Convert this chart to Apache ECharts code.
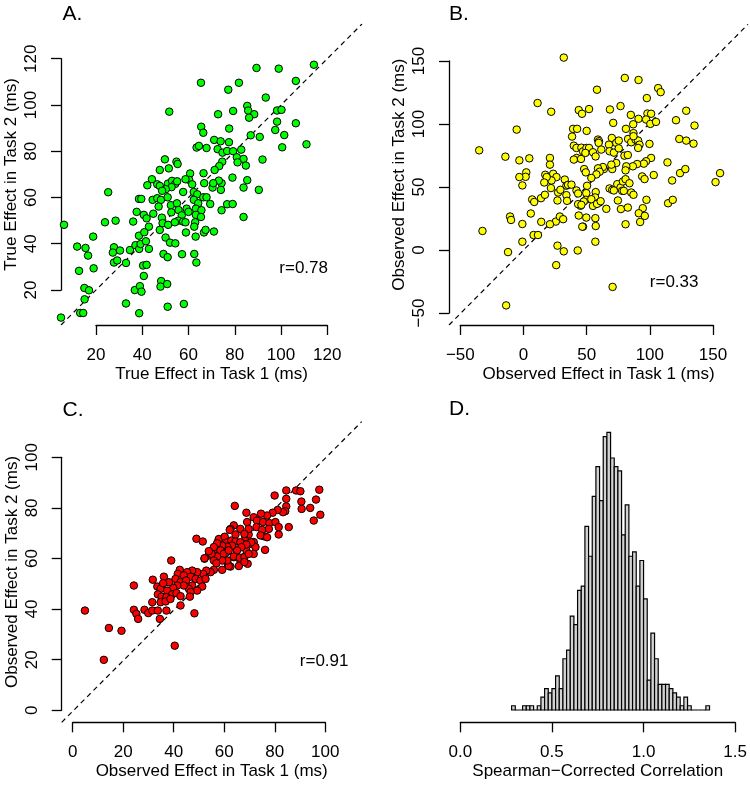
<!DOCTYPE html>
<html><head><meta charset="utf-8">
<script src="https://cdn.jsdelivr.net/npm/echarts@6/dist/echarts.min.js"></script>
<style>html,body{margin:0;padding:0;background:#fff}#c{width:750px;height:785px}</style>
</head><body><div id="c"></div>
<script>
// ---------- DATA ----------
const panelA = [[89.4,116.0],[99.0,115.7],[114.2,117.4],[65.4,109.6],[81.8,109.6],[77.2,106.6],[106.4,110.4],[93.4,103.2],
[51.7,97.1],[72.8,96.0],[79.3,97.4],[85.4,99.6],[85.8,97.6],[88.4,96.0],[86.2,94.5],[98.3,97.6],[100.2,97.9],[98.3,92.8],[106.4,92.1],[97.5,89.2],[101.4,87.0],[111.0,83.0],[100.5,81.7],[65.5,90.6],[66.4,88.0],[77.6,89.8],[90.8,86.2],[86.9,86.9],[92.0,76.4],[63.5,81.6],[64.5,82.3],[67.8,81.4],[71.1,84.9],[73.9,84.3],[77.5,83.9],[72.6,80.9],[74.7,79.4],[76.7,80.1],[79.3,80.0],[82.8,80.7],[80.9,77.4],[83.8,76.7],[81.2,75.2],[84.8,73.8],[74.6,75.5],[73.3,73.6],[71.3,71.9],[79.0,68.6],[85.4,67.5],[83.8,64.3],[90.4,63.3],[83.8,51.6],[74.3,66.2],[73.1,67.3],[74.0,63.3],[70.4,64.3],[70.7,66.2],[76.7,57.1],[79.1,57.2],[74.3,54.5],[66.5,70.5],[66.8,66.2],[60.7,70.4],[60.3,67.6],[61.6,65.7],[58.7,67.9],[49.8,76.5],[54.8,75.5],[55.3,74.5],[51.5,72.6],[47.6,71.9],[44.2,67.9],[46.5,65.7],[47.6,65.0],[51.1,66.0],[52.9,67.2],[54.3,65.9],[55.1,67.0],[52.7,64.5],[50.2,63.6],[48.6,62.9],[42.2,65.3],[25.3,62.3],[38.6,59.4],[39.6,59.4],[44.5,59.0],[46.5,59.7],[48.1,59.0],[51.0,60.1],[47.1,56.1],[52.4,56.7],[55.0,57.5],[55.7,54.6],[52.6,53.6],[57.7,62.4],[62.3,62.4],[63.8,61.4],[62.3,59.0],[64.2,57.5],[66.4,60.1],[67.8,60.1],[69.4,57.2],[63.2,55.2],[65.6,54.5],[59.2,55.2],[60.0,53.8],[57.1,52.3],[55.6,50.0],[57.7,49.6],[63.2,52.5],[65.4,51.6],[62.9,49.3],[62.5,47.4],[58.7,49.3],[48.5,51.3],[48.8,48.9],[51.2,48.2],[47.6,46.0],[54.1,49.3],[37.6,53.8],[40.7,52.5],[41.9,51.0],[36.1,49.6],[28.5,50.0],[23.9,49.3],[6.2,48.2],[42.9,47.4],[44.8,53.0],[18.8,43.1],[38.6,43.5],[40.9,45.0],[50.1,42.7],[52.0,40.5],[54.3,40.2],[58.9,44.9],[63.1,43.1],[66.7,44.9],[67.4,46.0],[71.0,45.3],[11.9,38.8],[15.5,38.2],[16.6,34.9],[12.7,28.3],[19.0,29.4],[27.8,38.5],[27.3,36.2],[30.4,37.1],[27.8,31.9],[29.2,32.8],[33.0,31.7],[34.7,37.3],[37.1,39.4],[38.7,37.8],[39.3,39.9],[41.6,41.1],[42.9,37.8],[40.4,30.6],[41.9,30.9],[40.7,26.1],[49.2,35.6],[51.0,34.2],[57.2,35.5],[62.5,35.6],[63.4,31.9],
[15.0,20.9],[17.0,19.9],[15.1,16.0],[13.2,10.1],[14.5,10.1],[4.9,8.1],[33.0,14.2],[36.8,20.0],[39.0,21.7],[39.7,19.3],[38.7,10.0],[48.2,23.9],[47.9,21.5],[50.8,22.6],[51.0,12.8],[58.0,14.0]];

const panelB = [[32.0,152.1],[80.5,136.0],[91.4,134.4],[58.4,126.7],[107,128.0],[109,124.8],[98.0,120.1],
[11.2,116.2],[22.0,109.3],[43.9,110.6],[46.5,107.7],[52.1,111.4],[68.7,111.1],[77.1,113.8],[-5.4,95.2],[71.3,100.5],[85.3,106.8],[91.4,103.7],[98.5,107.9],[101.4,107.7],[97.4,103.2],[100.8,99.7],[105.3,101.3],[121.2,102.6],[129.3,110.1],[135.9,98.4],[87.2,99.4],[81.4,95.8],[39.4,95.8],[42.6,95.8],[38.6,89.7],[50.2,94.2],[87.4,92.4],[123.8,87.8],[129.3,86.5],[135.1,84.1],[-35.2,78.8],[-14.4,73.8],[-3.3,70.9],[4.6,72.5],[21.0,72.8],[21.0,67.5],[2.2,61.4],[1.7,57.9],[-3.3,57.7],[-0.9,51.1],[17.3,59.5],[23.6,60.3],[26.2,57.7],[22.3,55.0],[18.4,57.7],[16.5,53.4],[21.8,49.0],[13.9,41.0],[17.0,43.7],[6.9,40.0],[8.5,38.0],[5.8,28.9],[-10.7,26.5],[-9.9,23.8],[-0.9,20.6],[-32.6,15.1],[14.1,22.3],[25.7,22.5],[28.9,26.5],[31.5,24.4],[21.0,20.4],[-0.9,6.6],[-12.3,-1.6],[8.0,11.9],[11.5,11.9],[27.0,3.5],[32.0,-1.0],[26.0,-11.9],[43.1,-0.3],[70.8,-29.1],[-13.8,-43.7],
[32.8,55.7],[34.1,50.9],[35.4,51.5],[38.1,51.7],[27.5,45.5],[29.3,47.6],[34.1,43.4],[27.0,39.2],[34.6,38.9],
[40.0,82.5],[42.1,80.7],[42.3,72.8],[40.0,71.5],[45.7,72.0],[46.0,80.9],[47.3,78.0],[50.0,80.7],[52.1,80.7],[49.2,76.8],[55.2,77.3],[57.3,74.0],[59.2,87.3],[60.0,86.0],[59.7,84.7],[61.8,79.4],[67.9,83.3],[68.4,78.1],[71.8,77.0],[70.2,88.6],[73.7,84.7],[75.7,86.5],[75.7,80.4],[80.2,74.6],[82.9,75.1],[83.1,87.8],[85.6,85.2],[89.0,87.3],[91.1,86.5],[92.2,83.3],[87.4,90.0],[91.1,80.7],[100.1,83.9],[101.4,72.8],[97.4,70.2],[95.6,68.3],[90.3,68.0],[86.9,66.2],[81.7,66.2],[81.1,63.0],[73.7,68.8],[70.5,64.0],[69.8,67.5],[63.9,64.0],[63.1,65.6],[59.2,64.6],[60.5,61.9],[57.9,59.8],[53.9,57.0],[48.2,64.0],[49.5,61.4],[50.5,50.8],[49.9,45.0],[49.5,39.7],[47.9,38.4],[45.3,35.0],[43.4,36.3],[46.0,35.7],[57.4,45.8],[56.9,41.6],[60.3,37.6],[65.8,32.6],[68.4,48.7],[70.5,47.6],[74.5,52.1],[77.1,49.5],[79.0,54.2],[81.1,56.0],[75.0,39.2],[77.4,32.4],[84.2,52.8],[85.6,45.5],[87.4,43.7],[82.9,33.6],[81.1,20.4],[94.3,58.2],[96.2,56.1],[103.5,59.3],[97.7,39.7],[94.8,33.1],[91.6,29.1],[96.4,27.0],[92.7,22.2],[114.9,37.0],[118.6,39.7],[118.1,55.0],[124.4,60.8],[128.6,64.0],[114.4,69.3],[152.6,53.7],[156.2,60.8],[57.1,25.2],[57.4,19.0],[47.3,18.5],[46.7,18.5],[57.1,6.6],[43.9,27.3],[49.9,25.7],[55.2,34.9],[53.9,40.2],[58.4,36.5],[61.3,38.6],[42.1,47.1],[43.4,44.7],[71.8,47.1],[78.4,46.8],[79.7,46.8]];

const panelC = [[88.3,87.1],[90.0,86.8],[97.5,87.4],[84.4,87.1],[79.8,85.1],[90.4,82.7],[96.2,83.5],[90.5,79.8],[93.9,80.2],[95.3,75.2],[97.9,77.5],[84.4,83.8],[84.4,80.8],[84.0,78.9],[83.1,78.5],[81.0,79.4],[79.0,78.3],[76.8,77.2],[74.4,77.9],[68.6,78.3],[64.0,81.0],[71.5,76.5],[68.9,74.6],[72.8,75.2],[75.2,74.6],[77.7,74.2],[80.1,74.6],[81.4,72.6],[81.4,69.7],[85.4,72.6],[76.0,63.6],
[63.6,73.3],[62.3,71.9],[66.2,71.9],[68.2,68.6],[69.5,69.7],[70.5,66.0],[71.5,66.7],[72.2,64.7],[75.5,69.0],[72.6,72.6],[48.8,68.0],[51.3,66.9],[57.6,67.6],[58.1,65.6],[53.7,61.4],[52.0,60.1],[56.3,62.1],[60.9,64.0],[59.4,63.4],[61.2,58.1],[62.3,57.0],[66.2,59.4],[68.6,63.4],[67.5,60.7],[69.1,58.1],[63.6,60.7],
[77.5,71.9],[74.8,71.5],[69.5,71.9],[67.8,69.9],[64.3,69.7],[62.0,71.5],[70.5,66.6],[74.2,69.3],[76.8,68.6],[71.5,62.0],[57.7,67.9],[60.0,68.8],[61.0,66.6],[62.6,67.3],[64.3,66.9],[66.2,66.6],[68.6,65.7],[66.6,64.7],[64.9,63.4],[62.9,65.3],[61.0,64.9],[59.0,65.3],[57.0,66.2],[55.7,64.7],[58.3,63.4],[59.6,62.0],[61.6,63.4],[63.6,61.0],[66.0,60.5],[67.8,60.7],[69.5,62.0],[65.6,57.2],[67.8,58.8],[61.6,57.2],[61.0,59.4],[59.0,59.4],[57.0,61.0],[54.8,62.0],[53.7,63.1],[55.7,59.4],[52.0,60.3],[56.7,58.3],[59.0,55.7],[55.7,55.7],[54.4,54.8],[52.7,55.4],[51.5,54.1],[49.1,54.8],[47.1,55.4],[45.1,54.8],[46.5,53.0],[48.5,52.1],[50.4,51.5],[52.4,52.1],[42.2,55.7],[41.4,54.1],[43.8,53.5],[40.5,52.1],[42.5,50.8],[44.7,51.5],[47.1,49.5],[51.1,49.1],[49.1,47.5],[45.8,48.2],[43.8,49.5],[41.2,49.5],[39.6,48.6],[37.9,50.8],[38.8,59.4],[35.9,53.0],[31.5,51.8],[33.3,49.1],[34.6,48.2],[35.6,50.4],[37.2,47.5],[39.2,46.0],[40.9,46.5],[42.5,45.3],[46.5,46.9],[46.2,45.1],[33.5,46.0],[35.0,45.1],[36.9,44.9],[34.6,42.9],[36.6,43.2],[38.5,44.2],[31.3,42.9],[24.0,49.5],[24.0,39.9],[25.0,38.3],[25.7,36.3],[28.2,39.9],[29.7,38.6],[31.3,39.6],[33.5,39.6],[34.3,36.3],[36.9,39.6],[42.5,41.6],[48.0,38.5],[40.2,25.7],[4.6,39.6],[14.1,32.7],[19.1,31.6],[12.1,20.1]];

const histBreaks = [0.28,0.30,0.32,0.34,0.36,0.38,0.40,0.42,0.44,0.46,0.48,0.50,0.52,0.54,0.56,0.58,0.60,0.62,0.64,0.66,0.68,0.70,0.72,0.74,0.76,0.78,0.80,0.82,0.84,0.86,0.88,0.90,0.92,0.94,0.96,0.98,1.00,1.02,1.04,1.06,1.08,1.10,1.12,1.14,1.16,1.18,1.20,1.22,1.24,1.26,1.28,1.30,1.32,1.34,1.36];
const histCounts = [1,0,0,1,1,1,0,1,3,5,4,5,8,5,12,14,22,20,28,29,43,36,50,57,49,64,65,59,57,56,41,48,36,37,29,35,26,7,18,12,6,6,6,5,4,3,1,3,1,0,0,0,0,1];

const limitsA = [4.9, 135], limitsB = [-59.2, 178.4], limitsC = [-4.6, 114.3];
const ticksA = [20, 120, 20], ticksB = [-50, 150, 50], ticksC = [0, 100, 20], ticksD = [0, 1.5, 0.5];
const namesX = ['True Effect in Task 1 (ms)', 'Observed Effect in Task 1 (ms)', 'Observed Effect in Task 1 (ms)', 'Spearman\u2212Corrected Correlation'];
const namesY = ['True Effect in Task 2 (ms)', 'Observed Effect in Task 2 (ms)', 'Observed Effect in Task 2 (ms)'];
const panelLetters = ['A.', 'B.', 'C.', 'D.'];
const rLabels = ['r=0.78', 'r=0.33', 'r=0.91'];

// ---------- CHART ----------
const FONT = '"Liberation Sans", Arial, Helvetica, sans-serif';
const chart = echarts.init(document.getElementById('c'), null, {renderer: 'canvas'});

const grids = [
  {left: 61, top: 24, width: 301, height: 301},        // 0 A full
  {left: 96, top: 58.7, width: 231.3, height: 231.3},  // 1 A ticks
  {left: 449, top: 24.3, width: 299, height: 300.7},   // 2 B full
  {left: 460.3, top: 61, width: 252.7, height: 252},   // 3 B ticks
  {left: 61.7, top: 421.7, width: 300, height: 300.6}, // 4 C full
  {left: 72.7, top: 457.3, width: 252.6, height: 253}, // 5 C ticks
  {left: 460.3, top: 411, width: 277.4, height: 299}   // 6 D
];

function nameAxis(gi, lim, name) {
  return {gridIndex: gi, type: 'value', min: lim[0], max: lim[1],
    axisLine: {show: false, onZero: false}, axisTick: {show: false}, axisLabel: {show: false}, splitLine: {show: false},
    name: name, nameLocation: 'middle', nameGap: 41,
    nameTextStyle: {fontSize: 17, color: '#000', fontFamily: FONT}};
}
function tickAxis(gi, t, offset, rotate, fmt) {
  return {gridIndex: gi, type: 'value', min: t[0], max: t[1], interval: t[2], offset: offset,
    axisLine: {show: true, onZero: false, lineStyle: {color: '#000', width: 1.3}},
    axisTick: {show: true, length: 10, lineStyle: {color: '#000', width: 1.3}},
    axisLabel: {color: '#000', fontSize: 17, fontFamily: FONT, margin: rotate ? 21 : 22, rotate: rotate || 0,
      formatter: fmt || (v => String(v).replace('-', '\u2212'))},
    splitLine: {show: false}};
}

const xAxes = [
  nameAxis(0, limitsA, namesX[0]), tickAxis(1, ticksA, 35),
  nameAxis(2, limitsB, namesX[1]), tickAxis(3, ticksB, 12),
  nameAxis(4, limitsC, namesX[2]), tickAxis(5, ticksC, 12),
  Object.assign(tickAxis(6, ticksD, 12.3, 0, v => v.toFixed(1)), {name: namesX[3], nameLocation: 'middle', nameGap: 41,
    nameTextStyle: {fontSize: 17, color: '#000', fontFamily: FONT}})
];
const yAxes = [
  nameAxis(0, limitsA, namesY[0]), tickAxis(1, ticksA, 35, 90),
  nameAxis(2, limitsB, namesY[1]), tickAxis(3, ticksB, 11.3, 90),
  nameAxis(4, limitsC, namesY[2]), tickAxis(5, ticksC, 11, 90),
  {gridIndex: 6, type: 'value', min: 0, max: 70, show: false}
];

function scatter(axisIdx, data, color) {
  return {type: 'scatter', xAxisIndex: axisIdx, yAxisIndex: axisIdx, data: data, symbol: 'circle', symbolSize: 7.5,
    itemStyle: {color: color, borderColor: '#000', borderWidth: 1, opacity: 1}, z: 3};
}
function abline(axisIdx, lim) {
  return {type: 'line', xAxisIndex: axisIdx, yAxisIndex: axisIdx, data: [[lim[0], lim[0]], [lim[1], lim[1]]],
    symbol: 'none', lineStyle: {color: '#000', width: 1.2, type: [5, 4]}, z: 2, silent: true};
}

const histData = histCounts.map((c, i) => [histBreaks[i], histBreaks[i + 1], c]);

const option = {
  animation: false,
  backgroundColor: '#fff',
  grid: grids,
  xAxis: xAxes,
  yAxis: yAxes,
  series: [
    abline(0, limitsA), scatter(0, panelA, '#00ff00'),
    abline(2, limitsB), scatter(2, panelB, '#ffff00'),
    abline(4, limitsC), scatter(4, panelC, '#ff0000'),
    {type: 'custom', xAxisIndex: 6, yAxisIndex: 6, data: histData, encode: {x: [0, 1], y: 2},
      renderItem: function (params, api) {
        const p0 = api.coord([api.value(0), api.value(2)]);
        const p1 = api.coord([api.value(1), 0]);
        return {type: 'rect', shape: {x: p0[0], y: p0[1], width: p1[0] - p0[0], height: p1[1] - p0[1]},
          style: {fill: '#d3d3d3', stroke: '#000', lineWidth: 1.2}};
      }}
  ],
  graphic: [
    {type: 'text', x: 62.5, y: 14, style: {text: panelLetters[0], font: '21px ' + FONT, fill: '#000', textVerticalAlign: 'middle'}},
    {type: 'text', x: 449, y: 14, style: {text: panelLetters[1], font: '21px ' + FONT, fill: '#000', textVerticalAlign: 'middle'}},
    {type: 'text', x: 62.5, y: 410, style: {text: panelLetters[2], font: '21px ' + FONT, fill: '#000', textVerticalAlign: 'middle'}},
    {type: 'text', x: 449, y: 409, style: {text: panelLetters[3], font: '21px ' + FONT, fill: '#000', textVerticalAlign: 'middle'}},
    {type: 'text', x: 328, y: 268.5, style: {text: rLabels[0], font: '17px ' + FONT, fill: '#000', textAlign: 'right', textVerticalAlign: 'middle'}},
    {type: 'text', x: 698.5, y: 282.5, style: {text: rLabels[1], font: '17px ' + FONT, fill: '#000', textAlign: 'right', textVerticalAlign: 'middle'}},
    {type: 'text', x: 348.5, y: 661, style: {text: rLabels[2], font: '17px ' + FONT, fill: '#000', textAlign: 'right', textVerticalAlign: 'middle'}}
  ]
};
chart.setOption(option);
</script>
</body></html>
